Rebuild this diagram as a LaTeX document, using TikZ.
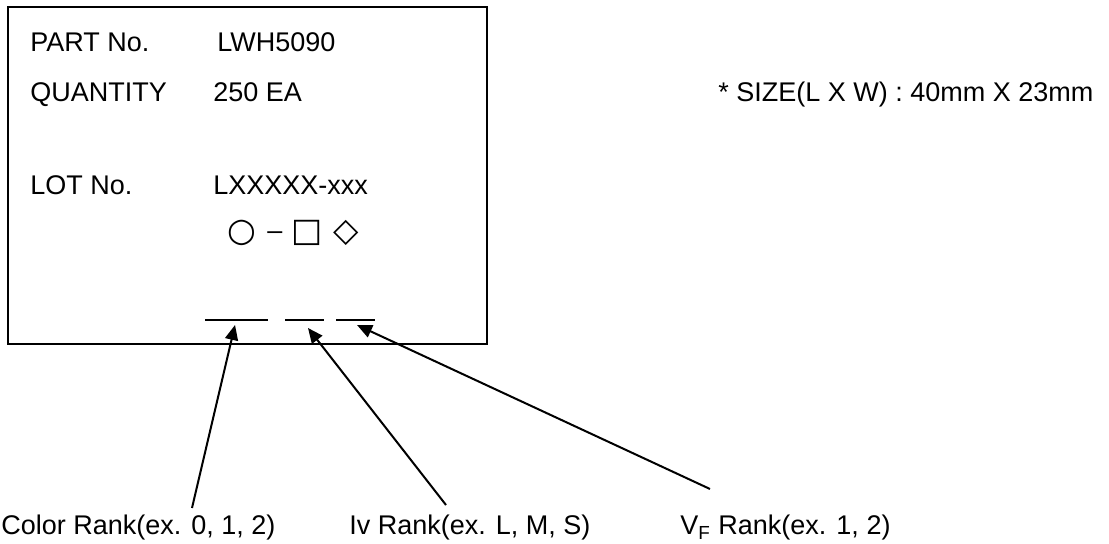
\documentclass[tikz,border=0pt]{standalone}
\usepackage{fontspec}
\setmainfont{Liberation Sans}
\newfontfamily\symfont{DejaVu Sans}
\usetikzlibrary{arrows.meta}

\begin{document}
\begin{tikzpicture}[x=0.5pt, y=-0.5pt,
    txt/.style={anchor=base west, inner sep=0pt, font=\fontsize{13.5}{16}\selectfont},
    sym/.style={inner sep=0pt, font=\symfont\fontsize{16.5}{18}\selectfont},
    pointer/.style={line width=1pt, -{Triangle[length=7.5pt, width=6.5pt]}}]
    \useasboundingbox (0, 0) rectangle (1109, 544);
    \draw[line width=0.8pt] (8, 7) rectangle (487, 344);

    \node[txt] (part) at (30, 52) {PART No.};
    \node[txt] (partno) at (217, 52) {LWH5090};
    \node[txt] (qty) at (30, 102) {QUANTITY};
    \node[txt] (qtyno) at (213, 102) {250 EA};
    \node[txt] (lot) at (30, 195) {LOT No.};
    \node[txt] (lotno) at (213, 195) {LXXXXX-xxx};
    \node[txt] (size) at (718, 102) {* SIZE(L X W) : 40mm X 23mm};

    % rank symbols
    \node[sym] (circ) at (242, 233) {○};
    \node[txt, anchor=base] (dash) at (275, 240) {–};
    \node[sym] (sq) at (307, 233) {□};
    \node[sym] (dia) at (346, 233) {◇};

    \draw[line width=1pt] (205, 320) -- (268, 320);
    \draw[line width=1pt] (285, 320) -- (324, 320);
    \draw[line width=1pt] (336, 320) -- (375, 320);

    \node[txt] (colorrank) at (1, 535) {Color Rank(ex. 0, 1, 2)};
    \node[txt] (ivrank) at (349, 535) {Iv Rank(ex. L, M, S)};
    \node[txt] (vfrank) at (680, 535) {V\textsubscript{F} Rank(ex. 1, 2)};

    \coordinate (colorfoot) at (192, 508);
    \coordinate (ivfoot) at (446, 505);
    \coordinate (vffoot) at (710, 489);
    \coordinate (colortip) at (235, 325);
    \coordinate (ivtip) at (308, 328);
    \coordinate (vftip) at (357, 325);

    \draw[pointer] (colorfoot) -- (colortip);
    \draw[pointer] (ivfoot) -- (ivtip);
    \draw[pointer] (vffoot) -- (vftip);
\end{tikzpicture}
\end{document}
